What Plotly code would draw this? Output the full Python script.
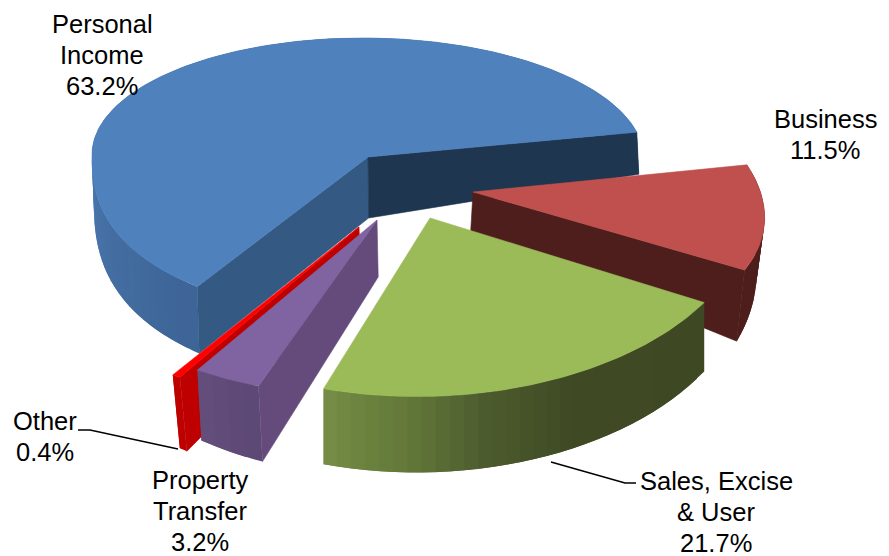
import math
import plotly.graph_objects as go

# Revenue shares, listed clockwise around the pie
categories = ["Personal Income", "Business", "Sales, Excise & User", "Property Transfer", "Other"]
shares = [63.2, 11.5, 21.7, 3.2, 0.4]
label_lines = [["Personal", "Income"], ["Business"], ["Sales, Excise", "& User"], ["Property", "Transfer"], ["Other"]]

FIRST_SLICE_ANGLE = -151.5  # degrees clockwise from "up" in the pie's own plane
WIDTH, HEIGHT = 889, 556
LINE_SPACING = 31

# Hand-tuned oblique view of each exploded wedge
views = {
    "Personal Income": dict(origin=(368, 157), basis=(276, -4, 4, 119), persp=0.34, rim_depth=(47.5, 22), apex_depth=61, lean=2,
                            top="#4F81BD", rim=[(-152, (62, 100, 150)), (-100, (72, 118, 172)), (80, (72, 118, 172))],
                            cut_start="#345A84", cut_end="#1F3650"),
    "Business": dict(origin=(473, 192), basis=(290, 31, 9.6, 151), persp=0, rim_depth=(49, 48), apex_depth=41, lean=-8,
                     top="#C0504D", rim=[(70, (78, 30, 28)), (120, (78, 30, 28))], cut_end="#4E1E1C"),
    "Sales, Excise & User": dict(origin=(430, 218), basis=(318, -20, 4, 175), persp=0.02, rim_depth=(63, 13), apex_depth=60, lean=0,
                                 top="#9BBB59", rim=[(117, (62, 72, 35)), (150, (63, 74, 36)), (166, (75, 90, 45)),
                                                     (178, (95, 115, 55)), (196, (118, 143, 70))]),
    "Property Transfer": dict(origin=(377, 220), basis=(338, -29, 16.5, 177), persp=0, rim_depth=(8, 70), apex_depth=57, lean=4,
                              top="#8064A2", rim=[(195, (92, 72, 116)), (207, (100, 78, 124))], cut_start="#644B7C"),
    "Other": dict(origin=(359, 227), basis=(335, -30, 16, 177), persp=0, rim_depth=(8, 74), apex_depth=48, lean=7,
                  top="#FF0000", rim=[(207, (190, 0, 0)), (209, (190, 0, 0))], cut_start="#BE0000"),
}

# Label blocks: centre of the text block in page pixels
label_centres = {
    "Personal Income": (102, 55),
    "Business": (825, 134),
    "Sales, Excise & User": (716, 512),
    "Property Transfer": (200, 511),
    "Other": (45, 436),
}
leaders = [([78, 90, 178], [430, 430, 449]), ([636, 625, 551], [483, 483, 462])]


def rim_point(view, theta):
    u, v = math.sin(math.radians(theta)), -math.cos(math.radians(theta))
    a, b, c, d = view["basis"]
    grow = 1 + view["persp"] * max(v, 0) ** 2
    x = view["origin"][0] + (a * u + b * v) * grow
    y = view["origin"][1] + (c * u + d * v) * grow
    return x, y, v


def rim_bottom(view, theta):
    x, y, v = rim_point(view, theta)
    return x + view["lean"], y + view["rim_depth"][0] + view["rim_depth"][1] * v


def shade(stops, theta):
    if theta <= stops[0][0]:
        return stops[0][1]
    for (t0, c0), (t1, c1) in zip(stops, stops[1:]):
        if theta <= t1:
            f = (theta - t0) / (t1 - t0)
            return tuple(round(p + (q - p) * f) for p, q in zip(c0, c1))
    return stops[-1][1]


def polygon(xs, ys, colour, edge=0.6):
    return go.Scatter(x=xs + xs[:1], y=ys + ys[:1], mode="lines", fill="toself", fillcolor=colour,
                      line=dict(color=colour, width=edge), hoverinfo="skip", showlegend=False)


def cut_wall(view, theta, colour):
    ox, oy = view["origin"]
    x, y, _ = rim_point(view, theta)
    bx, by = rim_bottom(view, theta)
    return polygon([ox, x, bx, ox + view["lean"] * 0.3], [oy, y, by, oy + view["apex_depth"]], colour)


# Angular extent of every wedge, from the shares
spans = {}
angle = FIRST_SLICE_ANGLE
for name, share in zip(categories, shares):
    spans[name] = (angle, angle + share * 3.6)
    angle += share * 3.6

fig = go.Figure()
# Painter's order, rear wedges first
for name in ["Personal Income", "Business", "Sales, Excise & User", "Other", "Property Transfer"]:
    view = views[name]
    start, end = spans[name]
    steps = max(2, int((end - start) / 2.5))
    step = (end - start) / steps
    # Rim strips overlap the next one so no seams show in the shading
    for i in range(steps):
        t0 = start + step * i
        sweep = [min(t0 + step * f, end) for f in (0, 0.5, 1, 1.5, 2)]
        tops = [rim_point(view, t) for t in sweep]
        bottoms = [rim_bottom(view, t) for t in reversed(sweep)]
        r, g, b = shade(view["rim"], t0 + step / 2)
        fig.add_trace(polygon([p[0] for p in tops] + [p[0] for p in bottoms],
                              [p[1] for p in tops] + [p[1] for p in bottoms], f"rgb({r},{g},{b})", edge=0))
    if "cut_start" in view:
        fig.add_trace(cut_wall(view, start, view["cut_start"]))
    if "cut_end" in view:
        fig.add_trace(cut_wall(view, end, view["cut_end"]))
    fine = [start + (end - start) * i / (steps * 3) for i in range(steps * 3 + 1)]
    rim = [rim_point(view, t) for t in fine]
    fig.add_trace(polygon([view["origin"][0]] + [p[0] for p in rim],
                          [view["origin"][1]] + [p[1] for p in rim], view["top"]))

for xs, ys in leaders:
    fig.add_trace(go.Scatter(x=xs, y=ys, mode="lines", line=dict(color="black", width=1.5),
                             hoverinfo="skip", showlegend=False))

for name, share, lines in zip(categories, shares, label_lines):
    cx, cy = label_centres[name]
    rows = lines + [f"{share:.1f}%"]
    for i, row in enumerate(rows):
        fig.add_annotation(x=cx, y=cy + (i - (len(rows) - 1) / 2) * LINE_SPACING, text=row, showarrow=False,
                           xanchor="center", yanchor="middle", align="center",
                           font=dict(family="Liberation Sans, Arial, sans-serif", size=25.5, color="black"))

fig.update_layout(width=WIDTH, height=HEIGHT, margin=dict(l=0, r=0, t=0, b=0), paper_bgcolor="white",
                  plot_bgcolor="white", showlegend=False,
                  xaxis=dict(range=[0, WIDTH], visible=False, fixedrange=True),
                  yaxis=dict(range=[HEIGHT, 0], visible=False, fixedrange=True))
fig.write_html("out.html", config={"displayModeBar": False})
